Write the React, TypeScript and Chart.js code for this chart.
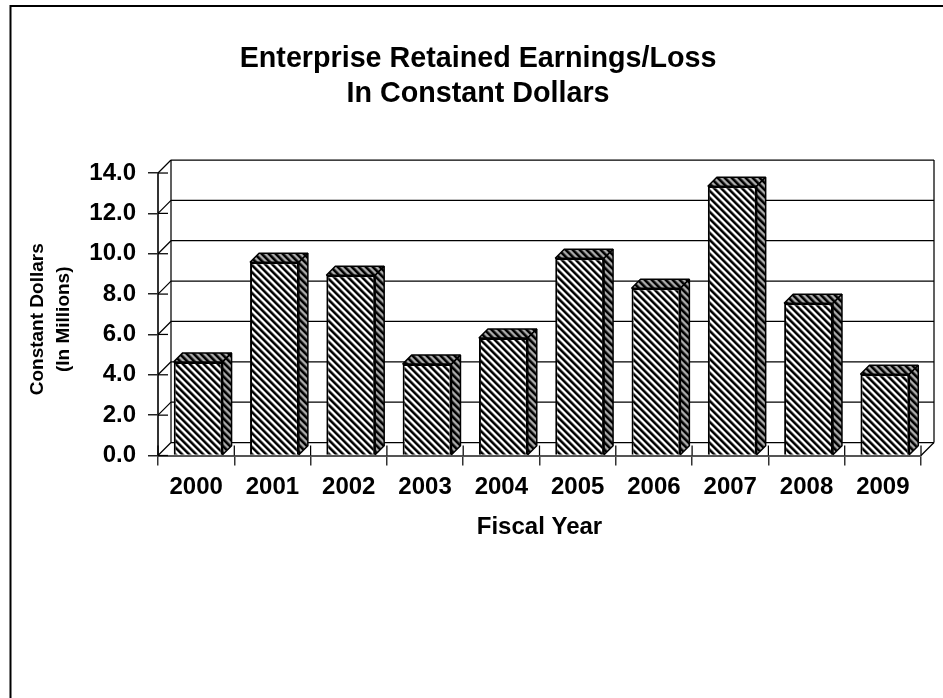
import React, { useEffect, useRef } from "react";
import { Chart, registerables } from "chart.js";

Chart.register(...registerables);

const years = ["2000", "2001", "2002", "2003", "2004", "2005", "2006", "2007", "2008", "2009"];
const earnings = [4.64, 9.58, 8.93, 4.53, 5.82, 9.78, 8.29, 13.34, 7.55, 4.03];
const titleLines = ["Enterprise Retained Earnings/Loss", "In Constant Dollars"];
const yTitleLines = ["Constant Dollars", "(In Millions)"];
const xTitle = "Fiscal Year";

const FONT = "'Liberation Sans', Arial, sans-serif";
const WALL = 13;
const DEPTH = 9;
const BAR_SHIFT = 2;

function stripes(ctx: CanvasRenderingContext2D, ramp: string[]) {
  const n = ramp.length;
  const c = document.createElement("canvas");
  c.width = n;
  c.height = n;
  const g = c.getContext("2d")!;
  for (let y = 0; y < n; y++) {
    for (let x = 0; x < n; x++) {
      g.fillStyle = ramp[((x - y) % n + n) % n];
      g.fillRect(x, y, 1, 1);
    }
  }
  return ctx.createPattern(c, "repeat")!;
}

export default function App() {
  const ref = useRef<HTMLCanvasElement>(null);
  useEffect(() => {
    const canvas = ref.current!;
    const ctx = canvas.getContext("2d")!;
    const front = stripes(ctx, ["#000", "#000", "#333", "#aaa", "#fff", "#fff", "#888"]);
    const dark = stripes(ctx, ["#000", "#000", "#222", "#666", "#aaa", "#aaa", "#666"]);

    const chart3d = {
      id: "chart3d",
      afterDatasetsUpdate(chart: any) {
        chart.getDatasetMeta(0).data.forEach((b: any) => {
          b.x += BAR_SHIFT;
        });
      },
      beforeDatasetsDraw(chart: any) {
        const c = chart.ctx;
        const { left, right, top, bottom } = chart.chartArea;
        c.save();
        c.strokeStyle = "#000";
        c.lineWidth = 1.25;
        const seg = (x1: number, y1: number, x2: number, y2: number) => {
          c.beginPath();
          c.moveTo(x1, y1);
          c.lineTo(x2, y2);
          c.stroke();
        };
        chart.scales.y.ticks.forEach((t: any) => {
          const y = chart.scales.y.getPixelForValue(t.value);
          seg(left + WALL, y - WALL, right + WALL, y - WALL);
          seg(left, y, left + WALL, y - WALL);
          seg(left, y, left + 10, y);
        });
        seg(right, bottom, right + WALL, bottom - WALL);
        seg(left + WALL, top - WALL, left + WALL, bottom - WALL);
        seg(right + WALL, top - WALL, right + WALL, bottom - WALL);
        years.forEach((_, i) => {
          const x = left + ((right - left) * i) / years.length;
          seg(x, bottom, x, bottom - 10);
        });
        seg(right, bottom, right, bottom - 10);
        c.restore();
      },
      afterDatasetsDraw(chart: any) {
        const c = chart.ctx;
        c.save();
        c.strokeStyle = "#000";
        c.lineWidth = 1.5;
        c.lineJoin = "bevel";
        chart.getDatasetMeta(0).data.forEach((b: any) => {
          const l = b.x - b.width / 2;
          const r = b.x + b.width / 2;
          const poly = (pts: number[][]) => {
            c.beginPath();
            pts.forEach((p, i) => (i ? c.lineTo(p[0], p[1]) : c.moveTo(p[0], p[1])));
            c.closePath();
            c.fillStyle = dark;
            c.fill();
            c.stroke();
          };
          poly([[l, b.y], [l + DEPTH, b.y - DEPTH], [r + DEPTH, b.y - DEPTH], [r, b.y]]);
          poly([[r, b.y], [r + DEPTH, b.y - DEPTH], [r + DEPTH, b.base - DEPTH], [r, b.base]]);
        });
        c.restore();
      },
      beforeDraw(chart: any) {
        const c = chart.ctx;
        const y = chart.scales.y;
        if (!y.$shifted) {
          const orig = y.drawTitle;
          y.drawTitle = function () {
            c.save();
            c.translate(0, 5);
            orig.call(y);
            c.restore();
          };
          y.$shifted = true;
        }
        c.save();
        c.fillStyle = "#fff";
        c.fillRect(0, 0, chart.width, chart.height);
        c.strokeStyle = "#000";
        c.lineWidth = 2;
        c.beginPath();
        c.moveTo(10.5, chart.height);
        c.lineTo(10.5, 6);
        c.lineTo(chart.width, 6);
        c.stroke();
        c.restore();
      },
    };

    const chart = new Chart(canvas, {
      type: "bar",
      data: {
        labels: years,
        datasets: [
          {
            data: earnings,
            backgroundColor: front,
            borderColor: "#000",
            borderWidth: 2,
            barPercentage: 0.64,
            categoryPercentage: 1,
          },
        ],
      },
      plugins: [chart3d],
      options: {
        animation: false,
        responsive: false,
        layout: { padding: { left: 35, right: 22, top: 0, bottom: 0 } },
        plugins: {
          legend: { display: false },
          tooltip: { enabled: false },
          title: {
            display: true,
            text: titleLines,
            color: "#000",
            font: { family: FONT, size: 28.7, weight: "bold", lineHeight: 1.22 },
            padding: { top: 42, bottom: 61 },
          },
        },
        scales: {
          x: {
            afterFit: (s: any) => {
              s.height = 242.5;
            },
            grid: { display: true, drawOnChartArea: false, offset: true, tickLength: 10, color: "#333", lineWidth: 1.5 },
            border: { color: "#555", width: 2 },
            ticks: { color: "#000", padding: 7, maxRotation: 0, font: { family: FONT, size: 24, weight: "bold" } },
            title: {
              display: true,
              text: xTitle,
              color: "#000",
              padding: { top: 12, bottom: 156 },
              font: { family: FONT, size: 24, weight: "bold" },
            },
          },
          y: {
            min: 0,
            max: 14,
            afterFit: (s: any) => {
              s.width = 123;
            },
            grid: { display: true, drawOnChartArea: false, tickLength: 10, color: "#222", lineWidth: 1.5 },
            border: { color: "#333", width: 2 },
            ticks: {
              stepSize: 2,
              color: "#000",
              padding: 12,
              font: { family: FONT, size: 24, weight: "bold" },
              callback: (v: any) => Number(v).toFixed(1),
            },
            title: {
              display: true,
              text: yTitleLines,
              color: "#000",
              padding: { top: -10, bottom: 0 },
              font: { family: FONT, size: 19, weight: "bold", lineHeight: 1.37 },
            },
          },
        },
      },
    } as any);
    return () => chart.destroy();
  }, []);
  return (
    <div style={{ position: "absolute", left: 0, top: 0, width: 943, height: 698 }}>
      <canvas ref={ref} width={943} height={698} style={{ display: "block" }} />
    </div>
  );
}
